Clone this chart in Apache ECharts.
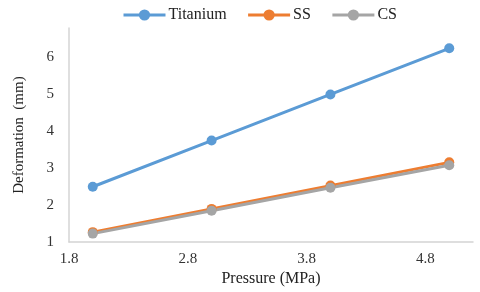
<!DOCTYPE html>
<html><head><meta charset="utf-8">
<script src="https://cdn.jsdelivr.net/npm/echarts@6/dist/echarts.min.js"></script>
<style>html,body{margin:0;padding:0;background:#fff}#c{width:480px;height:292px}</style>
</head><body><div id="c"></div>
<script>
const pressure = [2, 3, 4, 5];
const titanium = [2.5, 3.75, 5.0, 6.25];
const ss = [1.27, 1.9, 2.53, 3.16];
const cs = [1.23, 1.85, 2.47, 3.08];
const seriesNames = ['Titanium', 'SS', 'CS'];
const colors = ['#5B9BD5', '#ED7D31', '#A5A5A5'];
const font = '"Liberation Serif", "Times New Roman", serif';
const pair = (xs, ys) => xs.map((x, i) => [x, ys[i]]);
const chart = echarts.init(document.getElementById('c'));
const mk = (name, ys, c) => ({
  name, type: 'line', data: pair(pressure, ys), symbol: 'circle', symbolSize: 10,
  lineStyle: {width: 3, color: c}, itemStyle: {color: c}, animation: false
});
chart.setOption({
  animation: false,
  color: colors,
  legend: {
    top: 2, left: 117, itemWidth: 42, itemHeight: 14, itemGap: 20,
    lineStyle: {width: 3},
    textStyle: {fontFamily: font, fontSize: 16, color: '#222', padding: [0, 0, 0, -2]},
    data: seriesNames
  },
  grid: {left: 69, right: 7, top: 28, bottom: 45},
  xAxis: {
    type: 'value', min: 1.8, max: 5.2, interval: 1,
    name: 'Pressure (MPa)', nameLocation: 'middle', nameGap: 22,
    nameTextStyle: {fontFamily: font, fontSize: 16, color: '#222'},
    axisLine: {lineStyle: {color: '#d4d4d4', width: 1.5}},
    axisTick: {show: false}, splitLine: {show: false},
    axisLabel: {fontFamily: font, fontSize: 15, color: '#333', margin: 9, showMaxLabel: false,
      formatter: v => (Math.round(v * 10) / 10).toFixed(1)}
  },
  yAxis: {
    type: 'value', min: 1, max: 6.8, interval: 1,
    name: 'Deformation  (mm)', nameLocation: 'middle', nameGap: 42, nameRotate: 90,
    nameTextStyle: {fontFamily: font, fontSize: 15, color: '#222'},
    axisLine: {show: true, lineStyle: {color: '#d4d4d4', width: 1.5}},
    axisTick: {show: false}, splitLine: {show: false},
    axisLabel: {fontFamily: font, fontSize: 15, color: '#333', margin: 15, showMaxLabel: false}
  },
  series: [mk('Titanium', titanium, colors[0]), mk('SS', ss, colors[1]), mk('CS', cs, colors[2])]
});
</script></body></html>
